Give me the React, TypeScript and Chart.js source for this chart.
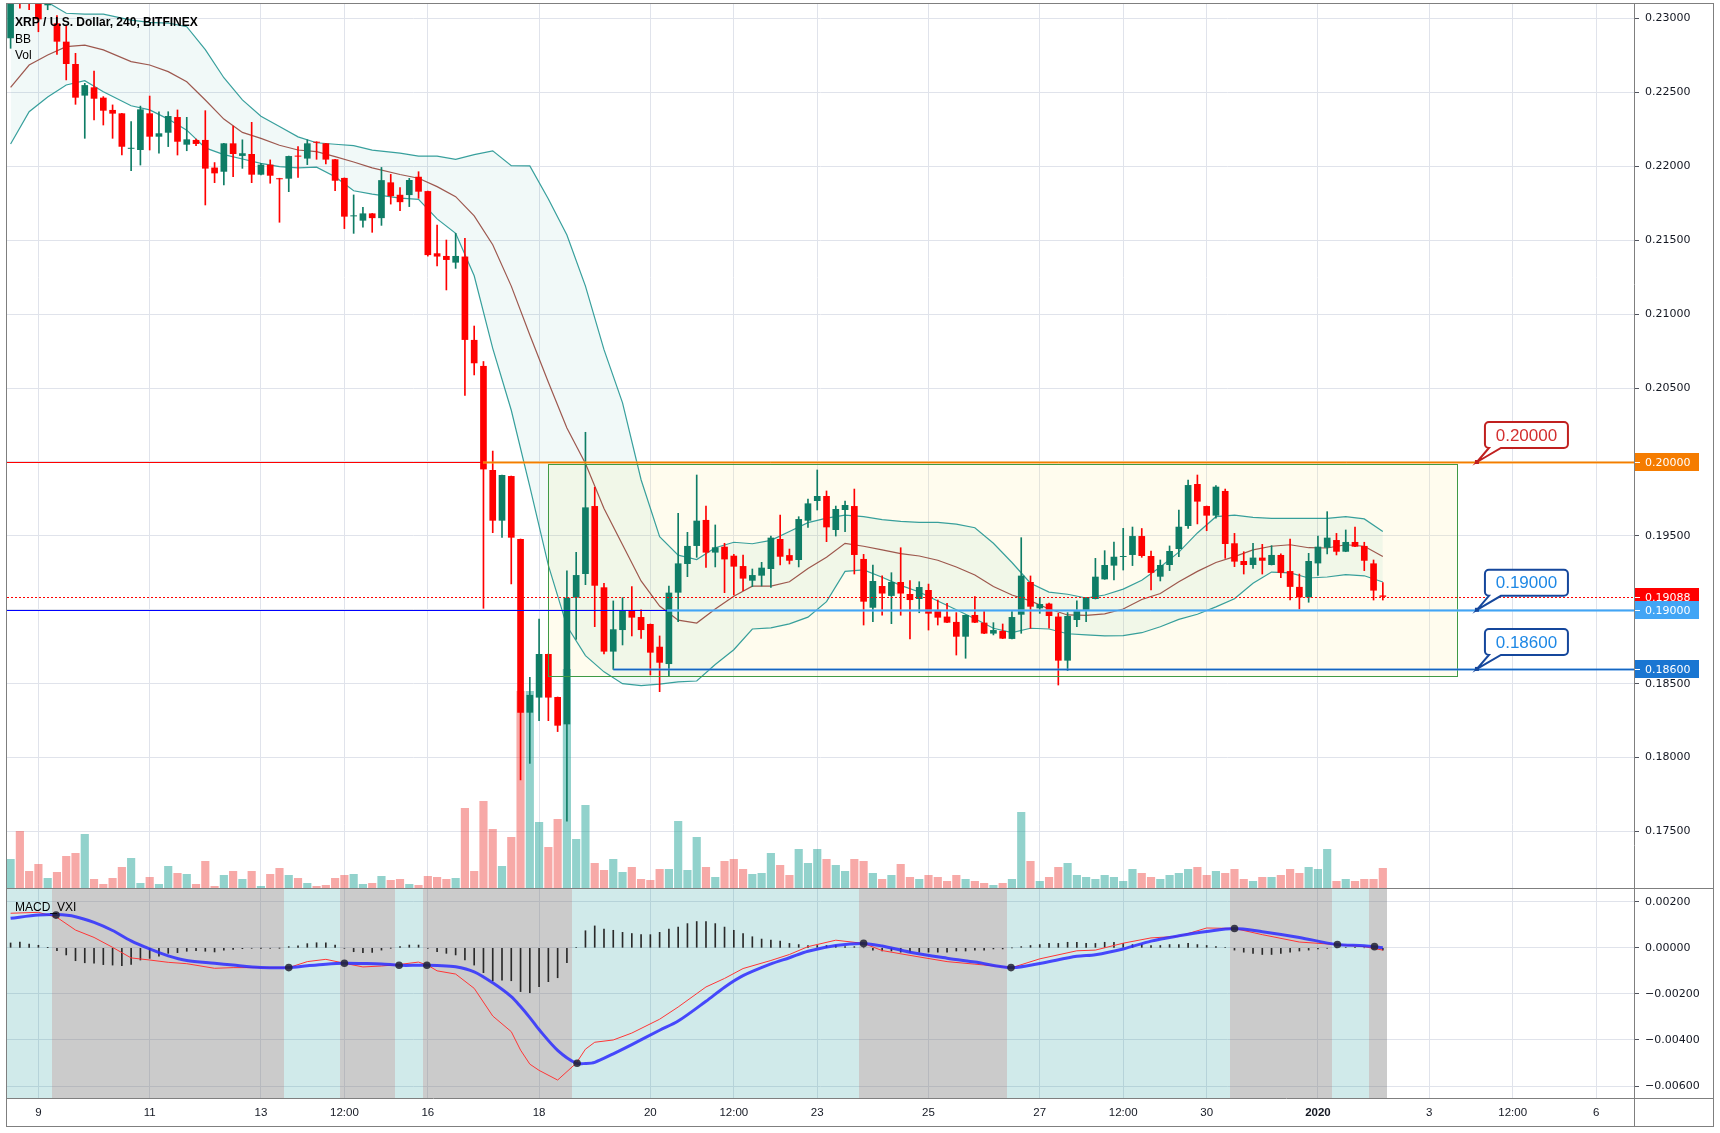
import React, { useEffect, useRef } from "react";
import { Chart, registerables } from "chart.js";
Chart.register(...registerables);

// ---------------- DATA (XRP/USD 4h, index 0 = 8 Dec 12:00) ----------------
const opens = [
  0.22867,0.2335,0.2330,0.2322,0.2309,0.22968,0.22844,0.22693,0.22479,0.22535,
  0.22465,0.22382,0.22359,0.22119,0.22111,0.22359,0.22201,0.22228,0.22334,0.22147,
  0.22179,0.22179,0.21992,0.21964,0.22156,0.22071,0.22084,0.21944,0.22012,0.21920,
  0.21917,0.22073,0.22053,0.22167,0.22156,0.22048,0.21922,0.21662,0.21633,0.21682,
  0.2165,0.21892,0.21808,0.21806,0.2193,0.21833,0.21412,0.21394,0.21349,0.2139,
  0.20826,0.2065,0.19946,0.19603,0.19905,0.19479,0.18304,0.18406,0.18701,0.1841,
  0.18225,0.19082,0.19242,0.19702,0.19152,0.18717,0.18863,0.18994,0.18951,0.18904,
  0.1875,0.18633,0.19116,0.1931,0.19432,0.19608,0.19387,0.19427,0.19366,0.19296,
  0.19197,0.19231,0.19276,0.19479,0.1937,0.19337,0.19603,0.19736,0.1977,0.1954,
  0.19675,0.19702,0.19344,0.19014,0.19161,0.19094,0.19188,0.19107,0.19073,0.19134,
  0.18992,0.18954,0.18918,0.18818,0.18965,0.18913,0.18839,0.18857,0.18803,0.18967,
  0.19188,0.1901,0.19042,0.18954,0.18656,0.18931,0.18994,0.19073,0.19206,0.19299,
  0.19357,0.19371,0.19499,0.19364,0.19224,0.19303,0.19411,0.19567,0.19851,0.19702,
  0.19637,0.19804,0.1945,0.1933,0.19303,0.19353,0.19303,0.19371,0.19262,0.19155,
  0.19084,0.19314,0.1942,0.19472,0.19393,0.19459,0.19432,0.19314,0.19097,
];
const highs = [
  0.2325,0.2340,0.2338,0.2325,0.2320,0.2302,0.22955,0.22765,0.22562,0.22645,
  0.22472,0.22416,0.22359,0.22303,0.22408,0.22476,0.2237,0.2237,0.22382,0.22332,
  0.22185,0.22377,0.22026,0.22156,0.22273,0.2218,0.22298,0.22021,0.22044,0.21920,
  0.2207,0.22134,0.2218,0.22167,0.22156,0.22048,0.21922,0.21807,0.21723,0.21682,
  0.21993,0.21946,0.21857,0.21919,0.21964,0.21833,0.21603,0.21502,0.21547,0.21513,
  0.2092,0.2068,0.20074,0.19912,0.19905,0.19479,0.18543,0.18938,0.18701,0.1841,
  0.19263,0.19389,0.20201,0.19829,0.19179,0.1906,0.19082,0.19157,0.18999,0.18904,
  0.18823,0.19161,0.19653,0.19524,0.19912,0.19702,0.19574,0.1945,0.19375,0.19371,
  0.19276,0.19321,0.19499,0.19641,0.19411,0.1963,0.19749,0.19946,0.19804,0.19702,
  0.19736,0.19817,0.19375,0.19303,0.19229,0.19251,0.1942,0.19197,0.1919,0.19174,
  0.19066,0.19044,0.18981,0.18965,0.19089,0.18994,0.18913,0.18904,0.18994,0.19488,
  0.19229,0.19078,0.19046,0.18976,0.18981,0.1906,0.19082,0.19348,0.194,0.19459,
  0.19551,0.1956,0.1955,0.19398,0.19337,0.19432,0.19675,0.19878,0.19912,0.19702,
  0.1984,0.19817,0.19517,0.19393,0.1945,0.19443,0.19434,0.19378,0.19479,0.19242,
  0.19382,0.19499,0.19664,0.19517,0.1954,0.1956,0.19457,0.19337,0.19184,
];
const lows = [
  0.22799,0.2307,0.2306,0.22911,0.2306,0.22757,0.22585,0.2242,0.2219,0.22314,
  0.2228,0.2219,0.22077,0.21971,0.22009,0.22111,0.22089,0.22134,0.22077,0.22106,
  0.2214,0.21739,0.2189,0.21874,0.21931,0.21987,0.2189,0.21942,0.21886,0.21622,
  0.21829,0.21926,0.22012,0.22048,0.22016,0.21836,0.21579,0.21547,0.21588,0.21554,
  0.21601,0.21745,0.217,0.21728,0.21784,0.21393,0.21326,0.21164,0.2131,0.2045,
  0.20589,0.1901,0.19522,0.1949,0.19175,0.17849,0.17961,0.1825,0.1825,0.18176,
  0.1757,0.188,0.1917,0.18886,0.18701,0.18597,0.18762,0.18823,0.18807,0.18559,
  0.18446,0.18552,0.1892,0.19224,0.19355,0.19287,0.1929,0.19116,0.191,0.19129,
  0.19157,0.19161,0.19152,0.19303,0.1931,0.1929,0.19558,0.19675,0.19461,0.19499,
  0.19529,0.19242,0.18897,0.1892,0.18963,0.18906,0.18963,0.18803,0.1898,0.18863,
  0.18897,0.18913,0.18694,0.18672,0.18913,0.18839,0.1883,0.18805,0.18803,0.18841,
  0.18875,0.18976,0.18875,0.18491,0.18588,0.18886,0.1892,0.19073,0.19206,0.19202,
  0.19269,0.19299,0.19355,0.19134,0.19195,0.19265,0.19359,0.19551,0.19581,0.19535,
  0.1962,0.19348,0.19292,0.19242,0.1928,0.19242,0.19303,0.19217,0.19066,0.19005,
  0.19051,0.19233,0.19378,0.19371,0.19393,0.19427,0.19265,0.19066,0.19066,
];
const closes = [
  0.2320,0.2318,0.2322,0.22995,0.2316,0.22844,0.22693,0.22465,0.22550,0.22458,
  0.22377,0.22357,0.22133,0.22126,0.22386,0.22201,0.22224,0.22341,0.22167,0.22183,
  0.22152,0.21985,0.21953,0.22156,0.22084,0.22089,0.21944,0.22012,0.21937,0.21913,
  0.2207,0.22066,0.22156,0.2216,0.22046,0.21903,0.2166,0.21667,0.21682,0.2165,
  0.21907,0.21799,0.21758,0.21908,0.21829,0.214,0.2139,0.21367,0.21394,0.20826,
  0.20668,0.1995,0.19603,0.19912,0.19488,0.18304,0.18424,0.18701,0.18406,0.18216,
  0.19082,0.19235,0.19693,0.19163,0.18717,0.18868,0.18994,0.18947,0.18863,0.1871,
  0.18642,0.19116,0.19314,0.19432,0.19603,0.19387,0.19423,0.19341,0.19292,0.19211,
  0.19235,0.19285,0.19488,0.19359,0.19332,0.19614,0.1972,0.1977,0.19558,0.19682,
  0.19709,0.19371,0.19055,0.19195,0.1911,0.19188,0.1911,0.19066,0.19154,0.18974,
  0.18947,0.18913,0.18818,0.18965,0.18913,0.18839,0.18863,0.18805,0.18951,0.19231,
  0.19021,0.19039,0.18958,0.18656,0.18958,0.18994,0.19082,0.19224,0.19303,0.19359,
  0.19362,0.19499,0.19364,0.1925,0.19303,0.19398,0.19562,0.19844,0.19732,0.19637,
  0.19833,0.19445,0.19326,0.19303,0.19353,0.19332,0.19371,0.1925,0.19155,0.19084,
  0.1933,0.19427,0.19488,0.19393,0.19459,0.19427,0.19332,0.1913,0.19088,
];
// relative volume
const volumes = [
  30,58,18,25,11,17,33,36,55,10,
  5,11,22,31,6,12,5,23,16,15,
  5,28,3,14,18,10,18,3,15,21,
  14,11,6,3,4,11,14,15,5,6,
  13,9,10,5,4,13,12,10,11,81,
  18,88,60,23,52,198,198,67,42,70,
  220,50,84,26,19,30,17,22,10,9,
  20,20,68,19,52,22,12,28,30,20,
  15,16,36,24,14,40,26,40,30,24,
  18,30,28,16,10,14,25,12,10,14,
  12,8,14,10,8,6,4,6,10,77,
  28,8,12,22,26,14,12,10,14,12,
  8,20,16,12,10,14,16,20,22,14,
  18,16,20,10,8,12,12,14,20,16,
  22,20,40,8,10,8,10,10,21,
];

// Bollinger Bands (read at these candle indices)
const bbIdx = [0,2,4,6,8,10,13,15,17,19,21,23,25,27,29,31,33,35,37,39,42,44,46,48,50,52,54,56,58,60,62,64,66,68,70,72,74,76,78,80,82,84,86,88,90,92,94,96,98,100,102,104,106,108,110,112,114,116,118,120,122,124,126,128,130,132,134,136,138,140,142,144,146,148];
const bbUpper = [0.2330,0.2322,0.2311,0.23036,0.2303,0.2303,0.2299,0.22975,0.2297,0.22945,0.2279,0.2260,0.2245,0.2234,0.2227,0.2220,0.2216,0.2215,0.2214,0.2211,0.2209,0.2207,0.2207,0.22048,0.2208,0.22105,0.22005,0.22003,0.2178,0.21536,0.2119,0.2076,0.2040,0.1988,0.19495,0.1937,0.1934,0.1942,0.19457,0.19447,0.1947,0.1953,0.1959,0.1962,0.1964,0.1963,0.1961,0.19598,0.19592,0.19592,0.1958,0.19555,0.1945,0.1932,0.1918,0.1912,0.19105,0.1908,0.1910,0.1914,0.1920,0.1929,0.1939,0.1952,0.1963,0.19641,0.19625,0.19619,0.19619,0.19619,0.19619,0.1963,0.19615,0.19529];
const bbMiddle = [0.22535,0.22686,0.22754,0.2281,0.22821,0.22788,0.22709,0.22686,0.22641,0.22573,0.22449,0.2232,0.2223,0.2219,0.22143,0.22111,0.221,0.22066,0.2203,0.2199,0.21945,0.2192,0.21863,0.21795,0.21665,0.2147,0.2119,0.20859,0.2054,0.2023,0.1999,0.19685,0.1944,0.19195,0.19025,0.1893,0.1891,0.19005,0.19092,0.1916,0.1916,0.1919,0.1928,0.19355,0.1945,0.1943,0.19405,0.1938,0.19364,0.19335,0.1929,0.19235,0.19157,0.1910,0.1906,0.19005,0.18965,0.18962,0.18972,0.19005,0.1907,0.1911,0.1919,0.1926,0.1932,0.1936,0.19405,0.1943,0.1944,0.1942,0.19418,0.1944,0.1943,0.1936];
const bbLower = [0.22152,0.2237,0.2247,0.22551,0.2258,0.22505,0.2241,0.22382,0.2232,0.22245,0.22125,0.2208,0.2205,0.2202,0.21998,0.2199,0.21995,0.2193,0.21835,0.21812,0.21785,0.21777,0.21645,0.21547,0.2126,0.20769,0.2035,0.19833,0.1930,0.1889,0.1869,0.1858,0.1850,0.18487,0.18497,0.18512,0.18518,0.1863,0.1873,0.1887,0.18878,0.18905,0.1895,0.19055,0.1926,0.1927,0.1922,0.19165,0.1912,0.1906,0.19,0.1894,0.18875,0.18845,0.18875,0.1887,0.18838,0.1883,0.18824,0.18825,0.18845,0.18885,0.18935,0.1897,0.1902,0.19075,0.1918,0.19255,0.1925,0.19215,0.19222,0.19238,0.1923,0.19188];

// MACD_VXI (read at these candle indices)
const macdIdx = [0,3,5,7,9,11,13,15,17,19,22,24,27,30,32,34,36,38,40,42,44,45,46,48,50,52,54,55,56,57,59,61,62,63,65,67,70,72,75,77,79,82,84,86,89,92,94,97,101,104,108,111,115,117,120,123,126,129,132,135,139,143,146,148];
const macdLine = [0.00128,0.00142,0.00144,0.00135,0.0011,0.00075,0.0003,-0.00005,-0.00035,-0.00055,-0.00067,-0.00075,-0.00085,-0.00086,-0.00078,-0.00071,-0.00067,-0.00068,-0.0007,-0.00076,-0.00076,-0.00076,-0.00077,-0.00082,-0.00104,-0.00152,-0.00212,-0.00255,-0.00303,-0.00355,-0.00445,-0.00501,-0.00502,-0.00497,-0.0046,-0.0042,-0.00358,-0.00318,-0.00232,-0.00171,-0.00121,-0.0007,-0.00043,-0.00015,0.0001,0.00019,0.00008,-0.00019,-0.00045,-0.00062,-0.00086,-0.00068,-0.00037,-0.0003,-0.00005,0.00029,0.00052,0.00071,0.00084,0.0007,0.00045,0.00014,0.00009,0.0];
const signalLine = [0.0015,0.00154,0.00132,0.00077,0.00045,0.00002,-0.00044,-0.00053,-0.00063,-0.00069,-0.00089,-0.00086,-0.00086,-0.00086,-0.0006,-0.0005,-0.00067,-0.00083,-0.00079,-0.00072,-0.00062,-0.00076,-0.001,-0.00114,-0.00176,-0.00296,-0.00364,-0.00444,-0.00505,-0.00532,-0.00574,-0.00501,-0.0044,-0.0041,-0.004,-0.0037,-0.0031,-0.00257,-0.0017,-0.00133,-0.0009,-0.00055,-0.00029,0.00005,0.00033,0.00019,-0.00012,-0.00033,-0.0006,-0.00071,-0.00086,-0.00048,-0.00013,-0.0001,0.0002,0.00043,0.0005,0.00086,0.00084,0.00057,0.00025,0.00014,0.00005,-0.0001];
const histogram = [
  0.00021,0.00025,0.00016,0.00011,0.00001,-0.00012,-0.00031,-0.00056,-0.00065,-0.00067,
  -0.00073,-0.00075,-0.00078,-0.00072,-0.00053,-0.00046,-0.00036,-0.00024,-0.00021,-0.00015,
  -0.00012,-0.00015,-0.00018,-0.0001,-0.00007,-0.00004,-0.00002,-0.00001,-0.00002,-0.00001,
  0.00005,0.00009,0.00018,0.00022,0.00022,0.00012,-0.00002,-0.00017,-0.00021,-0.0002,
  -0.0001,-0.00001,0.00005,0.00012,0.00012,-0.00002,-0.00017,-0.00024,-0.00031,-0.00053,
  -0.00075,-0.00108,-0.00143,-0.0014,-0.00143,-0.0019,-0.00195,-0.00169,-0.00147,-0.0013,
  -0.00065,0.00002,0.00074,0.00095,0.00081,0.00076,0.00067,0.00062,0.00057,0.00057,
  0.00067,0.00081,0.0009,0.00105,0.00114,0.00114,0.00105,0.0009,0.00076,0.00062,
  0.00048,0.00038,0.00033,0.00029,0.00019,0.00014,0.0001,0.0001,0.0001,0.0001,
  0.00005,0.00005,0,-0.0001,-0.00014,-0.00014,-0.00019,-0.00019,-0.00019,-0.00019,
  -0.00019,-0.00019,-0.00014,-0.00014,-0.0001,-0.0001,-0.00005,-0.00005,0,0.00005,
  0.0001,0.00014,0.00019,0.00019,0.00024,0.00024,0.00019,0.00019,0.00024,0.00024,
  0.00019,0.00014,0.00014,0.0001,0.0001,0.00014,0.00014,0.00019,0.00014,0.0001,
  0.00005,0.00002,-0.0001,-0.00019,-0.00024,-0.00029,-0.00029,-0.00024,-0.00019,-0.00014,
  -0.0001,-0.00005,-0.00002,0,0.00002,0.00002,0,-0.00005,-0.0001,
];
const crossIdx = [4.9, 30, 36, 41.9, 44.9, 61.1, 92, 107.9, 132, 143.1, 147.1];
const crossVal = [0.00142, -0.00086, -0.00067, -0.00076, -0.00076, -0.00501, 0.00019, -0.00086, 0.00084, 0.00014, 0.00005];
// MACD background regimes (candle index ranges)
const zoneStart = [0, 5, 30, 36, 42, 45, 61, 92, 108, 132, 143, 147];
const zoneEnd = [4, 29, 35, 41, 44, 60, 91, 107, 131, 142, 146, 148];
const zoneBull = [true, false, true, false, true, false, true, false, true, false, true, false];

// axes
const xTickIdx = [3, 15, 27, 36, 45, 57, 69, 78, 87, 99, 111, 120, 129, 141, 153, 162, 171];
const xTickLabels = ["9", "11", "13", "12:00", "16", "18", "20", "12:00", "23", "25", "27", "12:00", "30", "2020", "3", "12:00", "6"];
const priceTicks = [0.175, 0.18, 0.185, 0.19, 0.195, 0.2, 0.205, 0.21, 0.215, 0.22, 0.225, 0.23];
const macdTicks = [0.002, 0, -0.002, -0.004, -0.006];

// drawings
const lastPrice = 0.19088;
const levelPrices = [0.2, 0.19, 0.186];
const rangeBox = { from: 57.99, to: 156.05, top: 0.19984, bottom: 0.18551 };
const calloutAt = 158.15;

// ---------------- STYLE ----------------
const UP = "#0f7d66";
const DOWN = "#ff0000";
const VOL_UP = "rgba(38,166,154,0.5)";
const VOL_DOWN = "rgba(239,83,80,0.5)";
const GRID = "#e0e3eb";
const FRAME = "#7f7f7f";
const TXT = '"Liberation Sans", Arial, sans-serif';
const AX = '"DejaVu Sans", Verdana, sans-serif';
const X_MIN = -0.388, X_MAX = 175.09;

const N = opens.length;
const idx = Array.from({ length: N }, (_, i) => i);
const isUp = idx.map((i) => closes[i] >= opens[i]);

function hline(ctx: any, x0: number, x1: number, y: number, color: string, w: number, dash?: number[]) {
  ctx.save();
  ctx.strokeStyle = color;
  ctx.lineWidth = w;
  if (dash) ctx.setLineDash(dash);
  const yy = w % 2 === 1 ? Math.round(y) + 0.5 : Math.round(y);
  ctx.beginPath();
  ctx.moveTo(x0, yy);
  ctx.lineTo(x1, yy);
  ctx.stroke();
  ctx.restore();
}

function callout(ctx: any, ax: number, ay: number, text: string, border: string, color: string) {
  const bx = ax + 8, by = ay - 40, bw = 83, bh = 26, r = 4;
  ctx.save();
  ctx.beginPath();
  ctx.moveTo(bx + r, by);
  ctx.lineTo(bx + bw - r, by);
  ctx.arcTo(bx + bw, by, bx + bw, by + r, r);
  ctx.lineTo(bx + bw, by + bh - r);
  ctx.arcTo(bx + bw, by + bh, bx + bw - r, by + bh, r);
  ctx.lineTo(bx + 16, by + bh);
  ctx.lineTo(ax, ay);
  ctx.lineTo(bx + 4, by + bh);
  ctx.lineTo(bx + r, by + bh);
  ctx.arcTo(bx, by + bh, bx, by + bh - r, r);
  ctx.lineTo(bx, by + r);
  ctx.arcTo(bx, by, bx + r, by, r);
  ctx.closePath();
  ctx.fillStyle = "#ffffff";
  ctx.fill();
  ctx.strokeStyle = border;
  ctx.lineWidth = 2;
  ctx.stroke();
  ctx.fillStyle = border;
  ctx.fillRect(ax - 2, ay - 2, 4, 4);
  ctx.fillStyle = color;
  ctx.font = `17px ${TXT}`;
  ctx.textAlign = "center";
  ctx.textBaseline = "middle";
  ctx.fillText(text, bx + bw / 2, by + bh / 2 + 1);
  ctx.restore();
}

function axisTag(ctx: any, y: number, text: string, bg: string, left: number) {
  ctx.save();
  ctx.fillStyle = bg;
  ctx.fillRect(left + 1, Math.round(y) - 9, 64, 18);
  ctx.strokeStyle = "#ffffff";
  ctx.lineWidth = 1;
  ctx.beginPath();
  ctx.moveTo(left + 1, Math.round(y) + 0.5);
  ctx.lineTo(left + 6, Math.round(y) + 0.5);
  ctx.stroke();
  ctx.fillStyle = "#ffffff";
  ctx.font = `11px ${AX}`;
  ctx.textAlign = "left";
  ctx.textBaseline = "middle";
  ctx.fillText(text, left + 11, Math.round(y) + 1);
  ctx.restore();
}

const overlay = {
  id: "overlay",
  beforeDatasetsDraw(chart: any) {
    const { ctx, chartArea: ca, scales } = chart;
    const xs = scales.x, ym = scales.yMacd, yp = scales.y;
    ctx.save();
    for (let k = 0; k < zoneStart.length; k++) {
      const x0 = Math.max(ca.left, Math.round(xs.getPixelForValue(zoneStart[k] - 0.5)));
      const x1 = Math.min(ca.right, Math.round(xs.getPixelForValue(zoneEnd[k] + 0.5)));
      ctx.fillStyle = zoneBull[k] ? "rgba(0,140,140,0.185)" : "rgba(110,110,110,0.355)";
      ctx.fillRect(x0, ym.top, x1 - x0, ym.bottom - ym.top);
    }
    const rx0 = xs.getPixelForValue(rangeBox.from), rx1 = xs.getPixelForValue(rangeBox.to);
    const ry0 = yp.getPixelForValue(rangeBox.top), ry1 = yp.getPixelForValue(rangeBox.bottom);
    ctx.fillStyle = "rgba(255,238,140,0.15)";
    ctx.fillRect(rx0, ry0, rx1 - rx0, ry1 - ry0);
    ctx.restore();
  },
  afterDatasetsDraw(chart: any) {
    const { ctx, chartArea: ca, scales } = chart;
    const xs = scales.x, yp = scales.y;
    const L = ca.left, R = ca.right;
    // range rectangle border
    const rx0 = xs.getPixelForValue(rangeBox.from), rx1 = xs.getPixelForValue(rangeBox.to);
    const ry0 = yp.getPixelForValue(rangeBox.top), ry1 = yp.getPixelForValue(rangeBox.bottom);
    ctx.save();
    ctx.strokeStyle = "#3f9a45";
    ctx.lineWidth = 1;
    ctx.strokeRect(Math.round(rx0) + 0.5, Math.round(ry0) + 0.5, Math.round(rx1 - rx0), Math.round(ry1 - ry0));
    ctx.restore();
    // horizontal levels
    const y20 = yp.getPixelForValue(levelPrices[0]);
    const y19 = yp.getPixelForValue(levelPrices[1]);
    const y186 = yp.getPixelForValue(levelPrices[2]);
    const xa = xs.getPixelForValue(50.95), xb = xs.getPixelForValue(70.8), xc = xs.getPixelForValue(65.0);
    hline(ctx, L, xa, y20, "#ff0000", 1);
    hline(ctx, xa, R, y20, "rgba(255,160,40,0.55)", 3);
    hline(ctx, xa, R, y20, "#f57c00", 1);
    hline(ctx, L, xb, y19, "#0000ff", 1);
    hline(ctx, xb, R, y19, "rgba(100,181,246,0.65)", 3);
    hline(ctx, xb, R, y19, "#42a5f5", 1);
    hline(ctx, xc, R, y186, "rgba(66,140,220,0.55)", 3);
    hline(ctx, xc, R, y186, "#1565c0", 1);
    hline(ctx, L, R, yp.getPixelForValue(lastPrice), "#ff0000", 1, [2, 2]);
    // callouts
    const cx = xs.getPixelForValue(calloutAt);
    callout(ctx, cx, y20, "0.20000", "#c0201f", "#d32f2f");
    callout(ctx, cx, y19, "0.19000", "#15479c", "#1e88e5");
    callout(ctx, cx, y186, "0.18600", "#15479c", "#1e88e5");
    // legends
    ctx.save();
    ctx.fillStyle = "#000000";
    ctx.textAlign = "left";
    ctx.textBaseline = "alphabetic";
    ctx.font = `bold 12px ${TXT}`;
    ctx.fillText("XRP / U.S. Dollar, 240, BITFINEX", 15, 26);
    ctx.font = `12px ${TXT}`;
    ctx.fillText("BB", 15, 42.5);
    ctx.fillText("Vol", 15, 59);
    ctx.fillText("MACD_VXI", 15, 911);
    ctx.restore();
  },
  afterDraw(chart: any) {
    const { ctx, chartArea: ca, scales } = chart;
    const yp = scales.y, ym = scales.yMacd;
    ctx.save();
    ctx.strokeStyle = FRAME;
    ctx.lineWidth = 1;
    ctx.strokeRect(6.5, 3.5, 1707, 1123);
    ctx.beginPath();
    ctx.moveTo(7, Math.round(yp.bottom) - 0.5);
    ctx.lineTo(1713, Math.round(yp.bottom) - 0.5);
    ctx.moveTo(7, Math.round(ym.bottom) + 0.5);
    ctx.lineTo(1713, Math.round(ym.bottom) + 0.5);
    ctx.moveTo(Math.round(ca.right) + 0.5, 4);
    ctx.lineTo(Math.round(ca.right) + 0.5, 1126);
    ctx.stroke();
    ctx.restore();
    const left = Math.round(ca.right);
    axisTag(ctx, yp.getPixelForValue(levelPrices[0]), "0.20000", "#f57c00", left);
    axisTag(ctx, yp.getPixelForValue(lastPrice), "0.19088", "#ff0000", left);
    axisTag(ctx, yp.getPixelForValue(levelPrices[1]), "0.19000", "#42a5f5", left);
    axisTag(ctx, yp.getPixelForValue(levelPrices[2]), "0.18600", "#1976d2", left);
  },
};

const yAfterFit = (s: any) => {
  s.width = 79;
  s.paddingTop = 0;
  s.paddingBottom = 0;
  s.paddingLeft = 0;
  s.paddingRight = 0;
};

export default function App() {
  const ref = useRef<HTMLCanvasElement | null>(null);
  useEffect(() => {
    if (!ref.current) return;
    const candleColors = idx.map((i) => (isUp[i] ? UP : DOWN));
    const chart = new Chart(ref.current, {
      type: "bar",
      data: {
        datasets: [
          {
            type: "bar",
            label: "Vol",
            data: idx.map((i) => ({ x: i, y: volumes[i] })),
            yAxisID: "yVol",
            backgroundColor: idx.map((i) => (isUp[i] ? VOL_UP : VOL_DOWN)),
            barPercentage: 0.88,
            categoryPercentage: 1,
            grouped: false,
            order: 9,
          } as any,
          {
            type: "line",
            label: "BB upper",
            data: bbIdx.map((x, k) => ({ x, y: bbUpper[k] })),
            yAxisID: "y",
            borderColor: "rgba(34,150,146,0.9)",
            borderWidth: 1.2,
            pointRadius: 0,
            tension: 0,
            fill: "+2",
            backgroundColor: "rgba(0,150,136,0.055)",
            order: 8,
          },
          {
            type: "line",
            label: "BB basis",
            data: bbIdx.map((x, k) => ({ x, y: bbMiddle[k] })),
            yAxisID: "y",
            borderColor: "rgba(150,55,45,0.85)",
            borderWidth: 1.2,
            pointRadius: 0,
            tension: 0,
            fill: false,
            order: 8,
          },
          {
            type: "line",
            label: "BB lower",
            data: bbIdx.map((x, k) => ({ x, y: bbLower[k] })),
            yAxisID: "y",
            borderColor: "rgba(34,150,146,0.9)",
            borderWidth: 1.2,
            pointRadius: 0,
            tension: 0,
            fill: false,
            order: 8,
          },
          {
            type: "bar",
            label: "Histogram",
            data: idx.map((i) => ({ x: i, y: histogram[i] })),
            yAxisID: "yMacd",
            backgroundColor: "#2a2a2a",
            barThickness: 1,
            grouped: false,
            order: 7,
          } as any,
          {
            type: "line",
            label: "Signal",
            data: macdIdx.map((x, k) => ({ x, y: signalLine[k] })),
            yAxisID: "yMacd",
            borderColor: "#ff3535",
            borderWidth: 1,
            pointRadius: 0,
            tension: 0,
            order: 6,
          },
          {
            type: "line",
            label: "MACD",
            data: macdIdx.map((x, k) => ({ x, y: macdLine[k] })),
            yAxisID: "yMacd",
            borderColor: "rgba(45,45,255,0.85)",
            borderWidth: 3,
            pointRadius: 0,
            tension: 0.3,
            order: 5,
          },
          {
            type: "line",
            label: "Cross",
            data: crossIdx.map((x, k) => ({ x, y: crossVal[k] })),
            yAxisID: "yMacd",
            showLine: false,
            pointRadius: 3.8,
            pointBackgroundColor: "rgba(35,35,50,0.85)",
            pointBorderWidth: 0,
            order: 4,
          },
          {
            type: "bar",
            label: "Wicks",
            data: idx.map((i) => ({ x: i, y: [lows[i], highs[i]] })),
            yAxisID: "y",
            backgroundColor: candleColors,
            barThickness: 1,
            grouped: false,
            order: 3,
          } as any,
          {
            type: "bar",
            label: "Bodies",
            data: idx.map((i) => ({ x: i, y: [opens[i], closes[i]] })),
            yAxisID: "y",
            backgroundColor: candleColors,
            barPercentage: 0.72,
            categoryPercentage: 1,
            minBarLength: 1,
            grouped: false,
            order: 2,
          } as any,
        ],
      },
      options: {
        animation: false,
        responsive: false,
        devicePixelRatio: 1,
        events: [],
        layout: { padding: { left: 7, top: 4, right: 7, bottom: 7 }, autoPadding: false } as any,
        plugins: { legend: { display: false }, tooltip: { enabled: false } },
        scales: {
          x: {
            type: "linear",
            min: X_MIN,
            max: X_MAX,
            offset: false,
            position: "bottom",
            grid: { color: GRID, drawTicks: false, offset: false },
            border: { display: false },
            afterBuildTicks: (s: any) => {
              s.ticks = xTickIdx.map((v) => ({ value: v }));
            },
            afterFit: (s: any) => {
              s.height = 28;
              s.paddingLeft = 0;
              s.paddingRight = 0;
            },
            ticks: {
              autoSkip: false,
              maxRotation: 0,
              padding: 8,
              color: "#131722",
              font: (c: any) => ({
                family: TXT,
                size: 11.5,
                weight: c.tick && c.tick.value === 141 ? "bold" : "normal",
              }),
              callback: (_v: any, i: number) => xTickLabels[i],
            },
          } as any,
          y: {
            type: "linear",
            position: "right",
            stack: "panes",
            stackWeight: 885,
            weight: 0,
            min: 0.171109,
            max: 0.230988,
            grid: { color: GRID, tickLength: 5, tickColor: "#50535e" },
            border: { display: false },
            afterBuildTicks: (s: any) => {
              s.ticks = priceTicks.map((v) => ({ value: v }));
            },
            afterFit: yAfterFit,
            ticks: {
              autoSkip: false,
              padding: 6,
              color: "#131722",
              font: { family: AX, size: 11 },
              callback: (v: any) => Number(v).toFixed(5),
            },
          } as any,
          yMacd: {
            type: "linear",
            position: "right",
            stack: "panes",
            stackWeight: 209,
            weight: 1,
            min: -0.006519,
            max: 0.002552,
            grid: { color: GRID, tickLength: 5, tickColor: "#50535e" },
            border: { display: false },
            afterBuildTicks: (s: any) => {
              s.ticks = macdTicks.map((v) => ({ value: v }));
            },
            afterFit: yAfterFit,
            ticks: {
              autoSkip: false,
              padding: 6,
              color: "#131722",
              font: { family: AX, size: 11 },
              callback: (v: any) => (v < 0 ? "\u2212" + Math.abs(v).toFixed(5) : Number(v).toFixed(5)),
            },
          } as any,
          yVol: {
            type: "linear",
            display: false,
            min: -209,
            max: 885,
          },
        },
      },
      plugins: [overlay],
    });
    return () => chart.destroy();
  }, []);
  return (
    <div style={{ position: "absolute", left: 0, top: 0, width: 1720, height: 1133, background: "#ffffff" }}>
      <canvas ref={ref} width={1720} height={1133} style={{ display: "block" }} />
    </div>
  );
}
